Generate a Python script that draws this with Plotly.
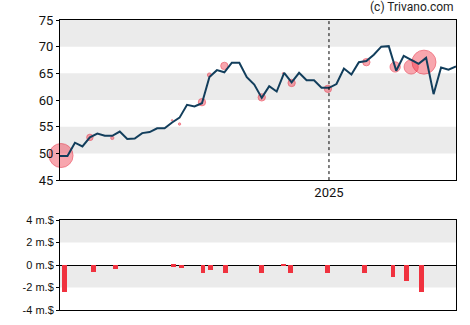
import pandas as pd
import plotly.graph_objects as go
from plotly.subplots import make_subplots

# Weekly closing prices
price_start = "2024-04-24"
prices = [49.5, 49.5, 52.0, 51.3, 53.0, 53.7, 53.3, 53.3, 54.1, 52.7,
          52.8, 53.8, 54.0, 54.7, 54.7, 55.8, 56.7, 59.1, 58.8, 59.4,
          64.3, 65.6, 65.2, 67.0, 67.0, 64.3, 62.9, 60.4, 62.6, 61.6,
          65.1, 63.3, 65.1, 63.7, 63.7, 62.3, 62.3, 63.0, 65.9, 64.8,
          67.1, 67.3, 68.5, 70.0, 70.1, 65.5, 68.3, 67.6, 66.8, 67.9,
          61.1, 66.1, 65.7, 66.3]
price_dates = pd.date_range(price_start, periods=len(prices), freq="7D")

# Insider transactions (trade date, trade price, value in million $)
trade_dates = ["2024-04-25", "2024-05-22", "2024-06-12", "2024-08-07", "2024-08-14",
               "2024-09-04", "2024-09-11", "2024-09-25", "2024-10-30", "2024-11-19",
               "2024-11-27", "2024-12-31", "2025-02-05", "2025-03-04", "2025-03-19",
               "2025-03-31"]
trade_prices = [49.6, 53.0, 52.9, 56.2, 55.5, 59.6, 64.7, 66.4, 60.5, 65.0,
                63.2, 62.1, 67.1, 66.2, 66.2, 67.1]
trade_values = [-2.45, -0.66, -0.33, -0.15, -0.24, -0.75, -0.42, -0.75, -0.75, -0.12,
                -0.75, -0.75, -0.75, -1.05, -1.46, -2.45]
bar_dates = ["2024-04-28", "2024-05-25", "2024-06-15", "2024-08-08", "2024-08-16",
             "2024-09-05", "2024-09-12", "2024-09-26", "2024-10-30", "2024-11-19",
             "2024-11-26", "2024-12-31", "2025-02-03", "2025-03-02", "2025-03-15",
             "2025-03-29"]

price_ticks = [45, 50, 55, 60, 65, 70, 75]
flow_ticks = [-4, -2, 0, 2, 4]
flow_labels = ["-4 m.$", "-2 m.$", "0 m.$", "2 m.$", "4 m.$"]
year_tick = "2025-01-01"
year_label = "2025"

fig = make_subplots(rows=2, cols=1, shared_xaxes=False, vertical_spacing=0,
                    row_heights=[0.55, 0.45])

bubble_sizes = [max(1.5, 9.8 * abs(v)) for v in trade_values]
fig.add_trace(go.Scatter(
    x=pd.to_datetime(trade_dates), y=trade_prices, mode="markers",
    marker=dict(size=bubble_sizes, color="rgba(240,45,65,0.6)",
                line=dict(color="rgba(230,40,60,0.75)", width=1)),
    cliponaxis=False, hoverinfo="skip", showlegend=False), row=1, col=1)

fig.add_trace(go.Scatter(
    x=price_dates, y=prices, mode="lines",
    line=dict(color="#123e5c", width=2),
    showlegend=False), row=1, col=1)

fig.add_trace(go.Bar(
    x=pd.to_datetime(bar_dates), y=trade_values,
    width=4.6 * 86400000, marker=dict(color="#f0323f", line=dict(width=0)),
    showlegend=False), row=2, col=1)

x0 = price_dates[0]
x1 = price_dates[-1]

# Alternating shaded bands
for lo, hi in [(50, 55), (60, 65), (70, 75)]:
    fig.add_shape(type="rect", xref="x domain", yref="y", x0=0, x1=1, y0=lo, y1=hi,
                  fillcolor="#ebebeb", line=dict(width=0), layer="below")
for lo, hi in [(2, 4), (-2, 0)]:
    fig.add_shape(type="rect", xref="x2 domain", yref="y2", x0=0, x1=1, y0=lo, y1=hi,
                  fillcolor="#ebebeb", line=dict(width=0), layer="below")

# Year separator
fig.add_shape(type="line", xref="x", yref="y domain", x0=year_tick, x1=year_tick,
              y0=0, y1=1, line=dict(color="black", width=1, dash="dot"))

fig.update_layout(
    template="none",
    width=470, height=325,
    margin=dict(l=60, r=14, t=20, b=15, pad=0),
    paper_bgcolor="white", plot_bgcolor="white",
    font=dict(family="Roboto, Arial, sans-serif", color="#111"),
    bargap=0,
    annotations=[dict(text="(c) Trivano.com", xref="paper", yref="paper",
                      x=1.0, y=1.0, yshift=4, xanchor="right", yanchor="bottom",
                      showarrow=False, font=dict(size=12, color="#222"))],
)

fig.update_xaxes(range=[x0, x1], showgrid=False, zeroline=False, automargin=False,
                 showline=True, mirror=True, linecolor="black", linewidth=1)
fig.update_xaxes(tickvals=[year_tick], ticktext=[year_label], ticks="",
                 tickfont=dict(size=13), row=1, col=1)
fig.update_xaxes(showticklabels=False, ticks="", row=2, col=1)

fig.update_yaxes(range=[45, 75], tickvals=price_ticks, showgrid=False, zeroline=False,
                 showline=True, mirror=True, linecolor="black", linewidth=1,
                 ticks="outside", ticklen=3, tickcolor="black", automargin=False,
                 tickfont=dict(size=13), row=1, col=1)
fig.update_yaxes(range=[-4, 4], tickvals=flow_ticks, ticktext=flow_labels,
                 showgrid=False, zeroline=True, zerolinecolor="black", zerolinewidth=1,
                 showline=True, mirror=True, linecolor="black", linewidth=1,
                 ticks="outside", ticklen=3, tickcolor="black", automargin=False,
                 tickfont=dict(size=11, family="Arial, Liberation Sans, sans-serif"),
                 row=2, col=1)

# Panel placement
fig.update_layout(yaxis=dict(domain=[0.448, 1.0]), yaxis2=dict(domain=[0.0, 0.31]))

fig.write_html("out.html")
